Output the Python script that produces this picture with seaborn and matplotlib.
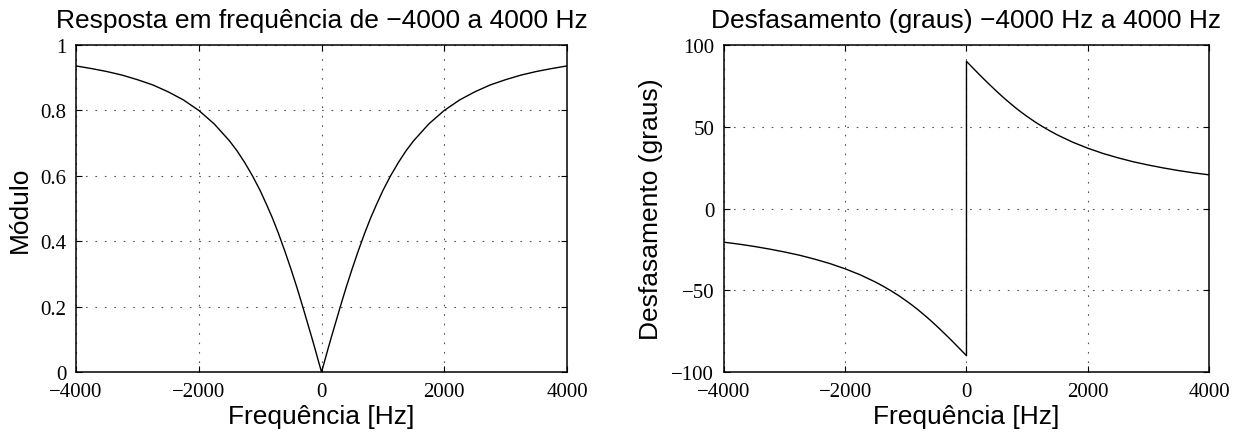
import matplotlib
matplotlib.use('Agg')
import matplotlib.pyplot as plt
import pandas as pd
import seaborn as sns

# frequencies (Hz)
freq_pos = [0, 50, 100, 150, 200, 300, 400, 500, 600, 700, 800, 900, 1000,
            1125, 1250, 1375, 1500, 1750, 2000, 2250, 2500, 2750, 3000,
            3250, 3500, 3750, 4000]
mag_pos = [0.0, 0.033, 0.067, 0.100, 0.132, 0.196, 0.258, 0.316, 0.371,
           0.423, 0.471, 0.514, 0.555, 0.600, 0.640, 0.676, 0.707, 0.759,
           0.800, 0.832, 0.857, 0.878, 0.894, 0.908, 0.919, 0.928, 0.936]
phase_pos = [90.0, 88.1, 86.2, 84.3, 82.4, 78.7, 75.1, 71.6, 68.2, 65.0,
             61.9, 59.0, 56.3, 53.1, 50.2, 47.5, 45.0, 40.6, 36.9, 33.7,
             31.0, 28.6, 26.6, 24.8, 23.2, 21.8, 20.6]

freq = [-f for f in freq_pos[::-1]] + freq_pos[1:]
mag = mag_pos[::-1] + mag_pos[1:]
phase_freq = [-f for f in freq_pos[::-1]] + freq_pos
phase = [-p for p in phase_pos[::-1]] + phase_pos

x_ticks = [-4000, -2000, 0, 2000, 4000]
x_labels = ['\u22124000', '\u22122000', '0', '2000', '4000']
mag_ticks = [0, 0.2, 0.4, 0.6, 0.8, 1]
mag_labels = ['0', '0.2', '0.4', '0.6', '0.8', '1']
ph_ticks = [-100, -50, 0, 50, 100]
ph_labels = ['\u2212100', '\u221250', '0', '50', '100']

sns.set_style('white')
plt.rcParams['font.family'] = ['Liberation Sans', 'DejaVu Sans']
plt.rcParams['text.color'] = 'black'
plt.rcParams['axes.labelcolor'] = 'black'

fig = plt.figure(figsize=(12.34, 4.39), dpi=100)
ax1 = fig.add_axes([0.0616, 0.1503, 0.3979, 0.7449])
ax2 = fig.add_axes([0.5867, 0.1503, 0.3930, 0.7449])

df_mag = pd.DataFrame({'f': freq, 'm': mag})
df_ph = pd.DataFrame({'f': phase_freq, 'p': phase})
sns.lineplot(data=df_mag, x='f', y='m', ax=ax1, color='black', linewidth=1.0,
             sort=False, estimator=None)
sns.lineplot(data=df_ph, x='f', y='p', ax=ax2, color='black', linewidth=1.0,
             sort=False, estimator=None)


def style(ax, yticks, ylabels, ylim, ylabel, title):
    ax.set_xlim(-4000, 4000)
    ax.set_ylim(*ylim)
    ax.set_xticks(x_ticks)
    ax.set_xticklabels(x_labels, family='Liberation Serif', fontsize=15)
    ax.set_yticks(yticks)
    ax.set_yticklabels(ylabels, family='Liberation Serif', fontsize=15)
    ax.tick_params(axis='x', pad=7)
    ax.tick_params(axis='y', pad=7)
    ax.tick_params(direction='in', length=4, width=0.8, top=True, right=True,
                   bottom=True, left=True, colors='black')
    ax.grid(True, linestyle=(0, (1.5, 7)), color='#555555', linewidth=0.8)
    for s in ax.spines.values():
        s.set_color('black')
        s.set_linewidth(1.1)
    ax.set_xlabel('Frequência [Hz]', fontsize=19, labelpad=2, color='black')
    ax.set_ylabel(ylabel, fontsize=19, labelpad=6, color='black')
    ax.set_title(title, fontsize=19, pad=13, color='black')


style(ax1, mag_ticks, mag_labels, (0, 1), 'Módulo',
      'Resposta em frequência de \u22124000 a 4000 Hz')
style(ax2, ph_ticks, ph_labels, (-100, 100), 'Desfasamento (graus)',
      'Desfasamento (graus) \u22124000 Hz a 4000 Hz')

fig.savefig('out.png', dpi=100)
